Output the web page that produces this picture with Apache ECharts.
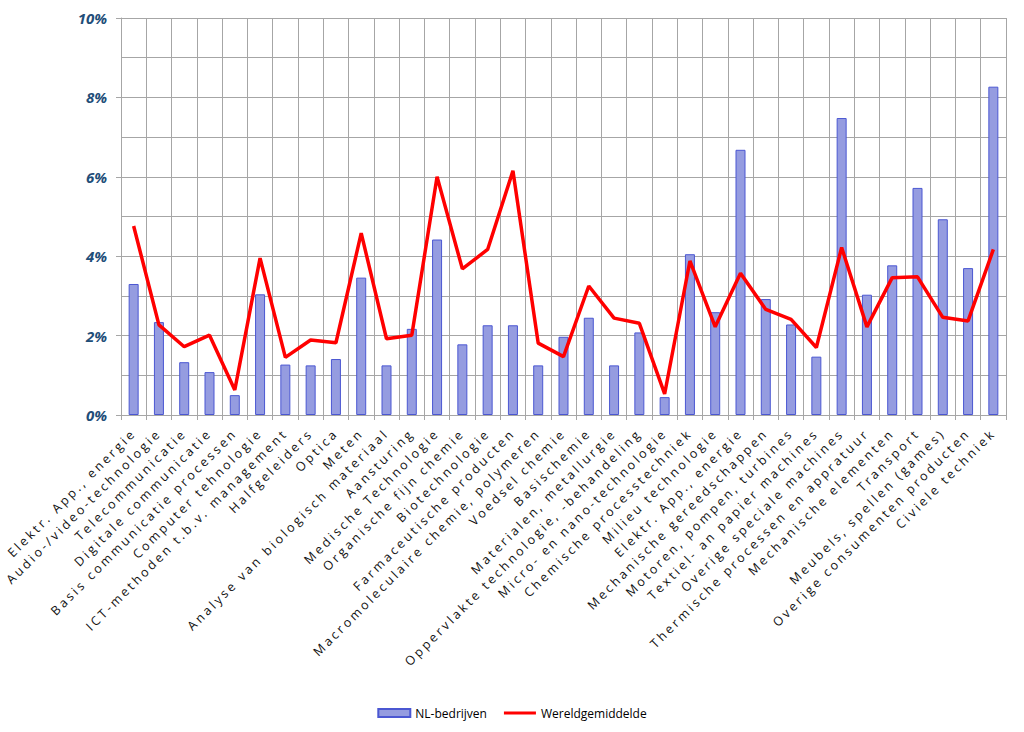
<!DOCTYPE html>
<html>
<head>
<meta charset="utf-8">
<script src="https://cdn.jsdelivr.net/npm/echarts@6/dist/echarts.min.js"></script>
<style>
html,body{margin:0;padding:0;background:#fff;}
#chart{width:1024px;height:732px;}
</style>
</head>
<body>
<div id="chart"></div>
<script>
var categories = [
  "Elektr. App., energie",
  "Audio-/video-technologie",
  "Telecommunicatie",
  "Digitale communicatie",
  "Basis communicatie processen",
  "Computer tehnologie",
  "ICT-methoden t.b.v. management",
  "Halfgeleiders",
  "Optica",
  "Meten",
  "Analyse van biologisch materiaal",
  "Aansturing",
  "Medische Technologie",
  "Organische fijn chemie",
  "Biotechnologie",
  "Farmaceutische producten",
  "Macromoleculaire chemie, polymeren",
  "Voedsel chemie",
  "Basischemie",
  "Materialen, metallurgie",
  "Oppervlakte technologie, -behandeling",
  "Micro- en nano-technologie",
  "Chemische processtechniek",
  "Milieu technologie",
  "Elektr. App., energie",
  "Mechanische gereedschappen",
  "Motoren, pompen, turbines",
  "Textiel- an papier machines",
  "Overige speciale machines",
  "Thermische processen en appratuur",
  "Mechanische elementen",
  "Transport",
  "Meubels, spellen (games)",
  "Overige consumenten producten",
  "Civiele techniek"
];
var nlBedrijven = [3.30, 2.34, 1.33, 1.08, 0.50, 3.04, 1.27, 1.25, 1.41, 3.46,
  1.25, 2.17, 4.42, 1.78, 2.26, 2.26, 1.25, 1.97, 2.45, 1.25,
  2.08, 0.45, 4.05, 2.59, 6.68, 2.92, 2.28, 1.47, 7.48, 3.03,
  3.77, 5.72, 4.93, 3.70, 8.27];
var wereldgemiddelde = [4.76, 2.27, 1.72, 2.01, 0.63, 3.95, 1.45, 1.89, 1.82, 4.58,
  1.92, 2.01, 6.00, 3.68, 4.17, 6.15, 1.81, 1.47, 3.25, 2.44,
  2.31, 0.53, 3.88, 2.22, 3.57, 2.66, 2.41, 1.70, 4.22, 2.22,
  3.46, 3.48, 2.46, 2.37, 4.17];
var yTicks = [0, 2, 4, 6, 8, 10];
var seriesNames = ["NL-bedrijven", "Wereldgemiddelde"];

// use indices as category values so the duplicate name stays a separate category
var catIndex = categories.map(function (c, i) { return String(i); });

var chart = echarts.init(document.getElementById('chart'), null, {renderer: 'svg'});
var gridColor = '#a6a6a6';
chart.setOption({
  animation: false,
  backgroundColor: '#ffffff',
  grid: {left: 121, right: 18, top: 18, bottom: 317, containLabel: false},
  legend: {
    bottom: 8,
    left: 'center',
    itemGap: 17,
    itemWidth: 32,
    itemHeight: 8,
    textStyle: {fontFamily: 'Open Sans', fontSize: 12, color: '#000'},
    data: [
      {name: seriesNames[0], icon: 'rect'},
      {name: seriesNames[1], icon: 'path://M0 0H32V3.2H0Z'}
    ]
  },
  xAxis: {
    type: 'category',
    data: catIndex,
    boundaryGap: true,
    axisLine: {show: true, lineStyle: {color: gridColor, width: 1}},
    axisTick: {show: true, length: 5, lineStyle: {color: gridColor}},
    splitLine: {show: true, lineStyle: {color: gridColor, width: 1}},
    axisLabel: {
      interval: 0,
      rotate: 45,
      margin: 16,
      fontFamily: 'Open Sans',
      fontSize: 12.5,
      color: '#111',
      formatter: function (v) { return categories[+v]; }
    }
  },
  yAxis: {
    type: 'value',
    min: yTicks[0],
    max: yTicks[yTicks.length - 1],
    interval: 2,
    axisLine: {show: true, lineStyle: {color: gridColor, width: 1}},
    axisTick: {show: true, length: 5, lineStyle: {color: gridColor}},
    splitLine: {show: true, lineStyle: {color: gridColor, width: 1}},
    minorTick: {show: false, splitNumber: 2},
    minorSplitLine: {show: true, lineStyle: {color: gridColor, width: 1}},
    axisLabel: {
      formatter: '{value}%',
      margin: 14,
      fontFamily: 'Open Sans',
      fontSize: 15,
      fontWeight: 'bold',
      fontStyle: 'italic',
      color: '#1f4e79'
    }
  },
  series: [
    {
      name: seriesNames[0],
      type: 'bar',
      data: nlBedrijven,
      barWidth: 10,
      itemStyle: {color: '#959ce0', borderColor: '#4b57d2', borderWidth: 1}
    },
    {
      name: seriesNames[1],
      type: 'line',
      data: wereldgemiddelde,
      symbol: 'none',
      showSymbol: false,
      lineStyle: {color: '#ff0000', width: 3.5},
      itemStyle: {color: '#ff0000'}
    }
  ]
});

// widen the tracking of the rotated category labels like the original
function spaceLabels() {
  var texts = document.querySelectorAll('#chart svg text');
  texts.forEach(function (t) {
    if (categories.indexOf(t.textContent) >= 0) {
      t.style.letterSpacing = '2.8px';
    }
  });
}
spaceLabels();
chart.on('finished', spaceLabels);
</script>
</body>
</html>
